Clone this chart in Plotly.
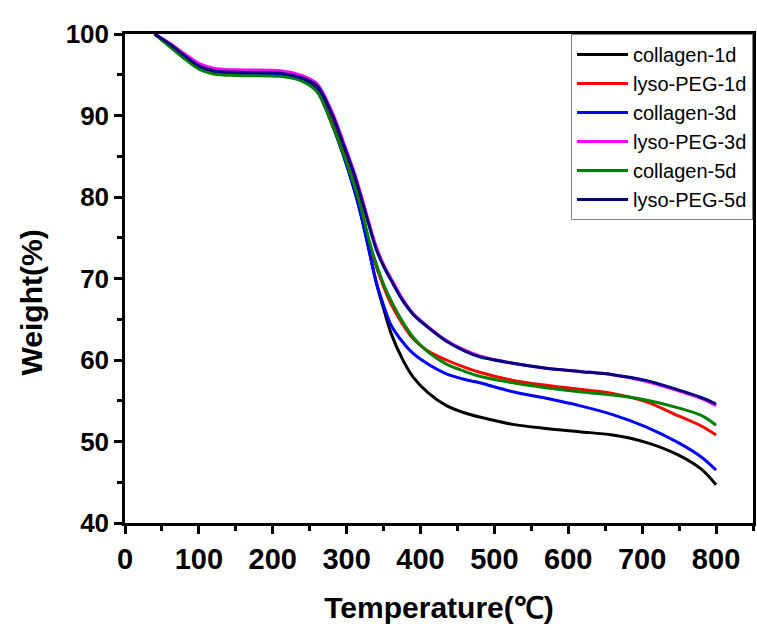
import plotly.graph_objects as go

temps = [40, 60, 80, 100, 120, 150, 210, 240, 260, 280, 295, 310, 320, 330, 340, 350, 360, 375,
         390, 410, 435, 460, 480, 525, 570, 615, 660, 705, 750, 780, 800]

collagen_1d = [100, 98.7, 97.3, 96.0, 95.4, 95.1, 94.9, 94.3, 93.0, 89.0, 85.3, 81.0, 77.6, 73.6,
               69.5, 66.3, 63.3, 60.2, 57.9, 56.0, 54.4, 53.5, 53.0, 52.1, 51.6, 51.2, 50.8, 49.9,
               48.3, 46.6, 44.7]
lyso_peg_1d = [100, 98.8, 97.4, 96.1, 95.5, 95.3, 95.2, 94.5, 93.3, 89.4, 85.8, 81.6, 78.4, 74.6,
               71.5, 69.0, 66.9, 64.5, 62.6, 61.1, 60.0, 59.1, 58.5, 57.5, 56.9, 56.4, 55.9, 54.9,
               53.1, 51.9, 50.8]
collagen_3d = [100, 98.7, 97.3, 96.0, 95.4, 95.1, 95.0, 94.3, 93.0, 89.0, 85.3, 81.0, 77.6, 73.6,
               69.6, 66.7, 64.3, 62.3, 60.8, 59.5, 58.3, 57.6, 57.2, 56.1, 55.3, 54.4, 53.3, 51.8,
               49.8, 48.1, 46.5]
lyso_peg_3d = [100, 98.9, 97.6, 96.4, 95.8, 95.6, 95.5, 94.9, 93.9, 90.5, 86.9, 83.1, 80.1, 76.9,
               73.9, 71.7, 70.0, 67.6, 65.7, 64.1, 62.4, 61.2, 60.5, 59.6, 59.0, 58.6, 58.2, 57.4,
               56.2, 55.3, 54.4]
collagen_5d = [100, 98.5, 97.0, 95.7, 95.1, 94.9, 94.8, 94.2, 92.9, 89.0, 85.5, 81.5, 78.5, 74.8,
               71.8, 69.3, 67.3, 64.8, 62.8, 61.0, 59.5, 58.6, 58.0, 57.2, 56.6, 56.1, 55.7, 55.1,
               54.1, 53.2, 52.0]
lyso_peg_5d = [100, 98.8, 97.4, 96.1, 95.5, 95.3, 95.2, 94.6, 93.6, 90.2, 86.6, 82.8, 79.8, 76.6,
               73.6, 71.5, 69.8, 67.4, 65.6, 64.0, 62.3, 61.1, 60.4, 59.6, 59.0, 58.6, 58.2, 57.5,
               56.3, 55.4, 54.6]

names = ["collagen-1d", "lyso-PEG-1d", "collagen-3d", "lyso-PEG-3d", "collagen-5d", "lyso-PEG-5d"]
series = [collagen_1d, lyso_peg_1d, collagen_3d, lyso_peg_3d, collagen_5d, lyso_peg_5d]
colors = ["#000000", "#FF0000", "#0000FF", "#FF00FF", "#008000", "#000080"]

x_ticks = [0, 100, 200, 300, 400, 500, 600, 700, 800]
y_ticks = [40, 50, 60, 70, 80, 90, 100]

fig = go.Figure()
for n, s, c in zip(names, series, colors):
    fig.add_trace(go.Scatter(x=temps, y=s, name=n, mode="lines",
                             line=dict(color=c, width=3, shape="spline", smoothing=0.9)))

FONT = "Liberation Sans, Arial, sans-serif"

fig.update_layout(
    width=757, height=630,
    margin=dict(l=125, r=1, t=34, b=107),
    paper_bgcolor="white", plot_bgcolor="white",
    showlegend=True,
    legend=dict(x=1, y=1, xanchor="right", yanchor="top",
                bordercolor="#808080", borderwidth=1, bgcolor="white",
                font=dict(family=FONT, size=20, color="black"),
                itemwidth=51, tracegroupgap=0),
    xaxis=dict(range=[0, 850], tickmode="array", tickvals=x_ticks,
               ticks="outside", ticklen=8, tickwidth=2.5, tickcolor="black",
               minor=dict(dtick=50, ticks="outside", ticklen=5, tickwidth=2.5, tickcolor="black"),
               showline=True, linewidth=2.5, linecolor="black", mirror=True,
               showgrid=False, zeroline=False,
               tickfont=dict(family=FONT, size=29, color="black", weight="bold"),
               title=dict(text="Temperature(℃)", standoff=24,
                          font=dict(family=FONT, size=30, color="black", weight="bold"))),
    yaxis=dict(range=[40, 100], tickmode="array", tickvals=y_ticks,
               ticks="outside", ticklen=8, tickwidth=2.5, tickcolor="black",
               minor=dict(dtick=5, ticks="outside", ticklen=5, tickwidth=2.5, tickcolor="black"),
               showline=True, linewidth=2.5, linecolor="black", mirror=True,
               showgrid=False, zeroline=False,
               tickfont=dict(family=FONT, size=26, color="black", weight="bold")),
)

pw = 757 - 125 - 1
ph = 630 - 34 - 107
fig.add_annotation(text="Weight(%)", x=(31 - 125) / pw, y=(630 - 107 - 302) / ph,
                   xref="paper", yref="paper", xanchor="center", yanchor="middle",
                   showarrow=False, textangle=-90,
                   font=dict(family=FONT, size=30, color="black", weight="bold"))

fig.write_html("out.html")
